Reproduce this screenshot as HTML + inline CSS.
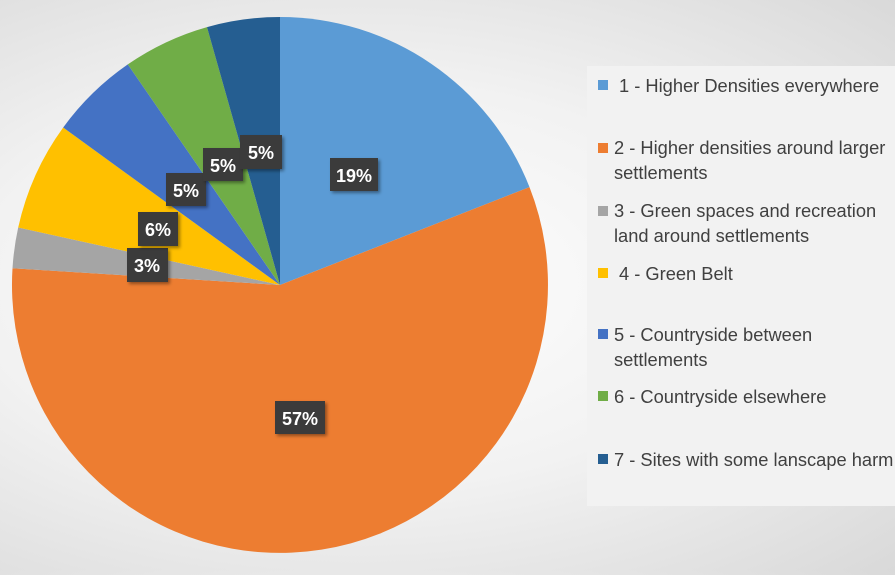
<!DOCTYPE html>
<html><head><meta charset="utf-8"><style>
body{margin:0;width:895px;height:570px;overflow:hidden;background:radial-gradient(ellipse at 40% 50%,#ffffff 0%,#f2f2f2 50%,#d9d9d9 100%);font-family:"Liberation Sans",sans-serif}
</style></head><body>
<svg width="895" height="570" xmlns="http://www.w3.org/2000/svg">
<defs><filter id="sh" x="-20%" y="-20%" width="150%" height="150%"><feDropShadow dx="2" dy="2" stdDeviation="1.5" flood-color="#000" flood-opacity="0.4"/></filter></defs>
<rect x="587" y="66" width="308" height="440" fill="#f2f2f2"/>
<g stroke="none">
<path d="M280,285 L280,17 A268,268 0 0 1 529.5,187.1 Z" fill="#5B9BD5"/>
<path d="M280,285 L529.5,187.1 A268,268 0 1 1 12.5,268.2 Z" fill="#ED7D31"/>
<path d="M280,285 L12.5,268.2 A268,268 0 0 1 18.2,227.5 Z" fill="#A5A5A5"/>
<path d="M280,285 L18.2,227.5 A268,268 0 0 1 63.2,127.5 Z" fill="#FFC000"/>
<path d="M280,285 L63.2,127.5 A268,268 0 0 1 127.8,64.4 Z" fill="#4472C4"/>
<path d="M280,285 L127.8,64.4 A268,268 0 0 1 207,27.1 Z" fill="#70AD47"/>
<path d="M280,285 L207,27.1 A268,268 0 0 1 280,17 Z" fill="#255E91"/>
</g>
<g font-weight="bold" font-size="18" fill="#fff" text-anchor="middle">
<rect x="330" y="158" width="48" height="33" fill="#3a3a3a" filter="url(#sh)"/><text x="354" y="182">19%</text>
<rect x="275" y="401" width="50" height="33" fill="#3a3a3a" filter="url(#sh)"/><text x="300" y="425">57%</text>
<rect x="127" y="248" width="41" height="34" fill="#3a3a3a" filter="url(#sh)"/><text x="147" y="272">3%</text>
<rect x="138" y="212" width="40" height="34" fill="#3a3a3a" filter="url(#sh)"/><text x="158" y="236">6%</text>
<rect x="166" y="173" width="40" height="33" fill="#3a3a3a" filter="url(#sh)"/><text x="186" y="197">5%</text>
<rect x="203" y="148" width="40" height="33" fill="#3a3a3a" filter="url(#sh)"/><text x="223" y="172">5%</text>
<rect x="240" y="135" width="42" height="34" fill="#3a3a3a" filter="url(#sh)"/><text x="261" y="159">5%</text>
</g>
<g font-size="18.3" fill="#404040">
<rect x="598" y="80" width="10" height="10" fill="#5B9BD5"/><text x="619" y="92">1 - Higher Densities everywhere</text>
<rect x="598" y="143" width="10" height="10" fill="#ED7D31"/><text x="614" y="154">2 - Higher densities around larger</text><text x="614" y="179">settlements</text>
<rect x="598" y="206" width="10" height="10" fill="#A5A5A5"/><text x="614" y="217">3 - Green spaces and recreation</text><text x="614" y="242">land around settlements</text>
<rect x="598" y="268" width="10" height="10" fill="#FFC000"/><text x="619" y="280">4  - Green Belt</text>
<rect x="598" y="329" width="10" height="10" fill="#4472C4"/><text x="614" y="341">5 - Countryside between</text><text x="614" y="366">settlements</text>
<rect x="598" y="391" width="10" height="10" fill="#70AD47"/><text x="614" y="403">6 - Countryside elsewhere</text>
<rect x="598" y="454" width="10" height="10" fill="#255E91"/><text x="614" y="466">7 - Sites with some lanscape harm</text>
</g>
</svg>
</body></html>
